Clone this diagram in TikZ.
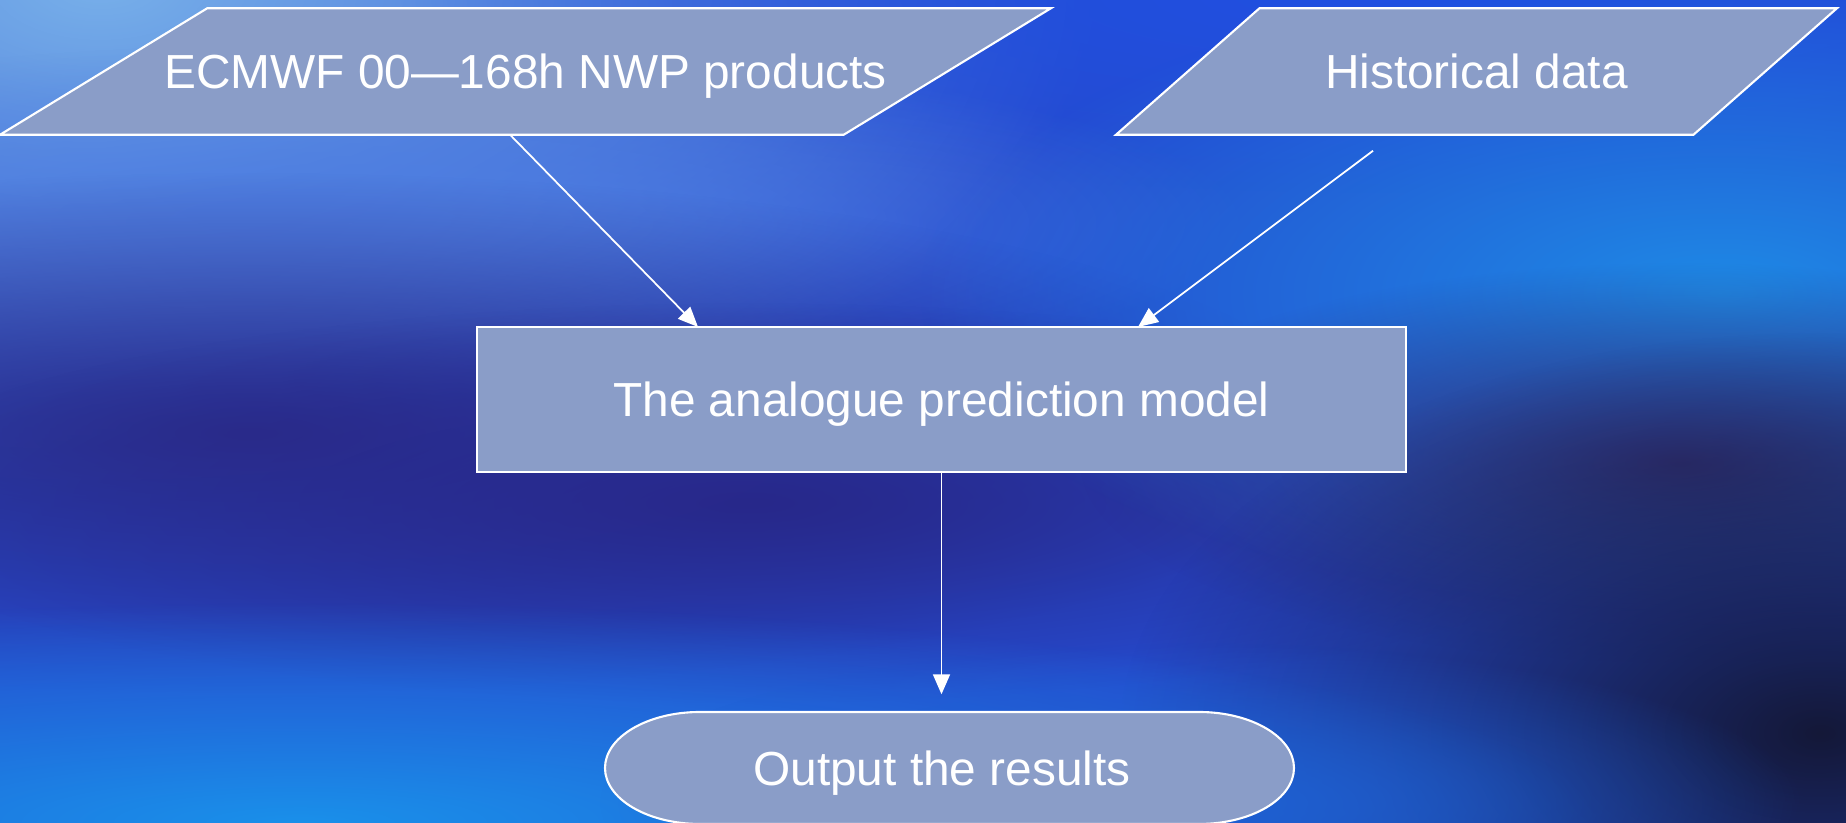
\documentclass[tikz,border=0pt]{standalone}
\usepackage{fontspec}
\setmainfont{Liberation Sans}
\usetikzlibrary{calc,arrows.meta,fadings,shapes.geometric}
\definecolor{boxfill}{RGB}{138,157,200}
\definecolor{skybase}{RGB}{38,74,206}
\definecolor{skypale}{RGB}{120,176,234}
\definecolor{skytop}{RGB}{32,80,226}
\definecolor{skyband}{RGB}{78,126,226}
\definecolor{skydusk}{RGB}{42,44,138}
\definecolor{skymid}{RGB}{40,40,138}
\definecolor{skycyan}{RGB}{30,138,230}
\definecolor{skyplum}{RGB}{48,48,118}
\definecolor{skynight}{RGB}{20,24,56}
\definecolor{skylow}{RGB}{26,144,234}
\definecolor{skyfoot}{RGB}{30,96,210}
\tikzfading[name=softblob, inner color=transparent!0, outer color=transparent!100]
\def\blob(#1)(#2:#3)#4;{\fill[#4, path fading=softblob] (#1) ellipse (#2 and #3);}

\begin{document}
\begin{tikzpicture}[
		txt/.style={text=white, font=\fontsize{13.6}{16}\selectfont, text height=9.7pt, text depth=0pt},
		para/.style={trapezium, trapezium stretches body, inner xsep=0pt, inner ysep=13.15pt, outer sep=0pt, fill=boxfill, draw=white, line width=0.6pt, txt},
		box/.style={rectangle, inner sep=0pt, outer sep=0pt, fill=boxfill, draw=white, line width=0.6pt, txt},
		arr/.style={draw=white, line width=0.5pt, -{Triangle[length=0.2cm,width=0.17cm]}}
	]
			%%%%% START %%%%%
			
			\useasboundingbox (0, 0) rectangle (18.46, 8.23);
			\fill[skybase] (0, 0) rectangle (18.46, 8.23);
			
			\blob(1.0, 8.4)(10:5.2){skypale};
			\blob(14.0, 8.3)(10:2.0){skytop};
			\blob(3.5, 6.0)(9:1.8){skyband};
			\blob(2.5, 3.9)(11:2.6){skydusk};
			\blob(7.5, 3.2)(9:2.0){skymid};
			\blob(17.2, 5.3)(8:3.2){skycyan};
			\blob(16.8, 3.6)(6:2.0){skyplum};
			\blob(18.2, 0.9)(7:4.0){skynight};
			\blob(3.0, 0.0)(13:2.2){skylow};
			\blob(12.0, 0.2)(6:1.6){skyfoot};
			
			\node[para, inner xsep=-0.5cm, trapezium left angle=31.4, trapezium right angle=148.6, minimum width=10.51cm] (ecmwf) at (5.255, 7.515) {ECMWF 00—168h NWP products};
			\node[para, trapezium left angle=41.4, trapezium right angle=138.6, minimum width=7.21cm] (hist) at (14.765, 7.515) {Historical data};
			
			\node[box, minimum width=9.29cm, minimum height=1.45cm] (model) at (9.415, 4.235) {The analogue prediction model};
			
			\coordinate (outc) at (9.495, 0.55);
			\filldraw[fill=boxfill, draw=white, line width=0.6pt] ($(outc)+(-2.495, 0.56)$) -- ($(outc)+(2.495, 0.56)$) arc[start angle=90, end angle=-90, x radius=0.95, y radius=0.56] -- ($(outc)+(-2.495, -0.56)$) arc[start angle=270, end angle=90, x radius=0.95, y radius=0.56] -- cycle;
			\node[txt, minimum width=6.89cm, minimum height=1.12cm, inner sep=0pt] (out) at ($(outc)+(-0.075, 0)$) {Output the results};
			
			\coordinate (histfoot) at ($(hist.south)+(-1.035, -0.16)$);
			
			\draw[arr] ($(ecmwf.south)+(-0.155, 0)$) -- ($(model.north)+(-2.435, 0)$);
			\draw[arr] (histfoot) -- ($(model.north)+(1.965, 0)$);
			\draw[arr, shorten >=0.17cm] (model.south) -- (model.south |- out.north);
			
			%%%%% END %%%%%
		\end{tikzpicture}
\end{document}
